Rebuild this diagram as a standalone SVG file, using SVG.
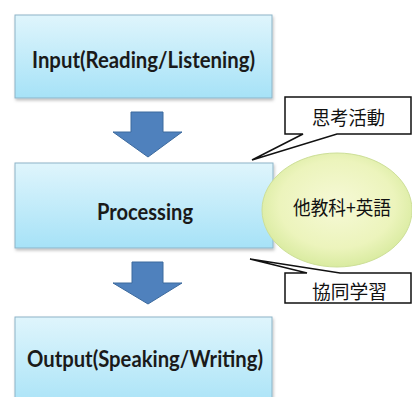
<svg xmlns="http://www.w3.org/2000/svg" width="412" height="397" viewBox="0 0 412 397">
<style>
.box{fill:url(#boxg);stroke:#8db4c8;stroke-width:1}
.lbl{font-family:Lato,"Liberation Sans",sans-serif;font-weight:bold;font-size:23px;fill:#1a1a1a;text-anchor:middle}
.jp{font-family:"Noto Sans CJK JP","Noto Sans CJK SC",sans-serif;font-size:19px;fill:#111;text-anchor:middle}
.arrow{fill:#4f81bd;stroke:#3c6a9e;stroke-width:1}
.call{fill:#fff;stroke:#111;stroke-width:1.5;stroke-linejoin:miter}
</style>
<defs>
<linearGradient id="boxg" x1="0" y1="0" x2="0" y2="1">
<stop offset="0" stop-color="#dff5fc"/>
<stop offset="1" stop-color="#a6e2f7"/>
</linearGradient>
<radialGradient id="ellg" cx="0.5" cy="0.45" r="0.55">
<stop offset="0" stop-color="#f6f9d6"/>
<stop offset="0.7" stop-color="#ecf4bc"/>
<stop offset="1" stop-color="#d9eba0"/>
</radialGradient>
<filter id="sh" x="-5%" y="-5%" width="115%" height="120%">
<feDropShadow dx="1" dy="2" stdDeviation="1.5" flood-color="#000" flood-opacity="0.25"/>
</filter>
</defs>
<rect width="412" height="397" fill="#fff"/>
<g id="input">
<rect class="box" x="15" y="15" width="257" height="83" filter="url(#sh)"/>
<text class="lbl" x="143.5" y="68" textLength="223" lengthAdjust="spacingAndGlyphs">Input(Reading/Listening)</text>
</g>
<g id="processing">
<rect class="box" x="15" y="163" width="258" height="85" filter="url(#sh)"/>
<text class="lbl" x="145" y="220" textLength="96" lengthAdjust="spacingAndGlyphs">Processing</text>
</g>
<g id="output">
<rect class="box" x="15" y="317" width="257" height="95" filter="url(#sh)"/>
<text class="lbl" x="145" y="367" textLength="236" lengthAdjust="spacingAndGlyphs">Output(Speaking/Writing)</text>
</g>
<g id="subjects">
<ellipse cx="337" cy="210" rx="75" ry="57" fill="url(#ellg)" stroke="#cddf98" stroke-width="1"/>
<text class="jp" x="342" y="215" textLength="98" lengthAdjust="spacingAndGlyphs">他教科+英語</text>
</g>
<g id="thinking">
<path class="call" d="M285,97 H411 V134 H337 L252,160 L303,134 H285 Z"/>
<text class="jp" x="348.5" y="125" font-size="20" textLength="73" lengthAdjust="spacingAndGlyphs">思考活動</text>
</g>
<g id="cooperative">
<path class="call" d="M285,273 H307 L250,259 L340,273 H411 V303 H285 Z"/>
<text class="jp" x="349.5" y="299" font-size="20" textLength="75" lengthAdjust="spacingAndGlyphs">協同学習</text>
</g>
<g id="connectors">
<path class="arrow" d="M131,112 H163 V132 H182 L148,157 L113,132 H131 Z"/>
<path class="arrow" d="M132,262 H163 V283 H182 L148,304 L113,283 H132 Z"/>
</g>
</svg>
